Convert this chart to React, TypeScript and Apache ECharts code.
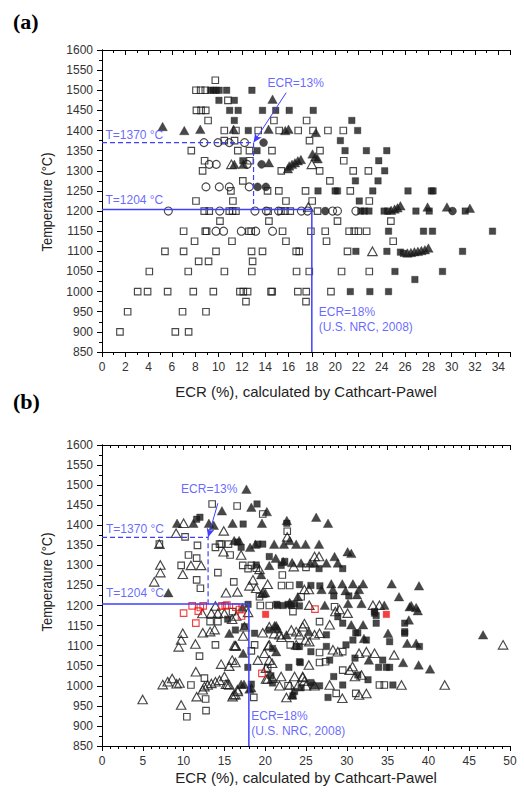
import React, { useEffect, useRef } from 'react';
import * as echarts from 'echarts';

type P = [number, number];

// ---------- Panel (a) data: [ECR %, Temperature °C] ----------
const aOpenSquares: P[] = [
  [9.72,1525],
  [8.06,1500],[8.46,1500],[8.86,1500],
  [10.8,1475],
  [8.1,1450],[8.5,1450],[8.9,1450],
  [9.1,1425],[14.75,1425],[17.55,1425],
  [10.49,1400],[11.49,1400],[13.4,1400],[15.2,1400],[16.83,1400],[18.1,1400],[19.38,1400],[20.7,1400],
  [10.49,1375],[11.37,1375],[17.8,1375],
  [7.66,1350],[11.65,1350],[12.65,1350],[14.58,1350],[18.7,1350],
  [8.8,1325],[12.69,1325],[20.74,1325],
  [8.63,1300],[15.38,1300],[18.67,1300],[21.55,1300],[22.85,1300],
  [12.08,1275],[19.55,1275],
  [11.06,1250],[14.2,1250],[15.17,1250],[17.46,1250],[21.3,1250],
  [8.06,1225],[11.23,1225],[15.78,1225],[18.03,1225],[22.93,1225],
  [8.77,1200],[9.2,1200],[10.92,1200],[11.2,1200],[11.49,1200],[14.25,1200],[15.35,1200],[15.7,1200],[16.15,1200],[18.49,1200],
  [10.12,1175],[14.32,1175],[20.2,1175],[24.78,1175],
  [7.0,1150],[8.86,1150],[8.97,1150],[12.6,1150],[12.8,1150],[15.49,1150],[17.92,1150],[19.15,1150],[21.2,1150],[21.64,1150],[22.0,1150],[22.7,1150],
  [7.94,1125],[11.15,1125],[15.78,1125],[19.26,1125],[24.98,1125],
  [5.4,1100],[7.0,1100],[9.78,1100],[12.83,1100],[13.77,1100],[16.66,1100],[16.92,1100],[21.06,1100],
  [8.29,1075],[9.14,1075],[12.92,1075],
  [4.06,1050],[7.4,1050],[10.5,1050],[12.85,1050],[16.69,1050],[17.78,1050],[20.55,1050],[22.93,1050],
  [3.06,1000],[3.91,1000],[5.63,1000],[7.83,1000],[9.55,1000],[11.83,1000],[12.12,1000],[12.49,1000],[14.5,1000],[14.6,1000],[16.8,1000],[17.52,1000],[19.64,1000],
  [12.35,975],[17.5,975],
  [2.2,950],[6.91,950],[8.92,950],
  [1.54,900],[6.29,900],[7.43,900],
];

const aFilledSquares: P[] = [
  [9.3,1500],[9.55,1500],[9.8,1500],[10.05,1500],[10.69,1500],[12.86,1500],
  [10.03,1475],[11.35,1475],
  [10.95,1450],[11.68,1450],[13.77,1450],[14.9,1450],[16.06,1450],[18.12,1450],
  [11.35,1425],[21.43,1425],
  [12.55,1400],[21.93,1400],
  [20.45,1375],
  [13.3,1350],[20.85,1350],[22.68,1350],[24.43,1350],
  [12.08,1325],[23.74,1325],
  [24.25,1300],
  [21.74,1275],[23.68,1275],
  [18.53,1250],[20.0,1250],[20.2,1250],[23.23,1250],[26.25,1250],[28.25,1250],[28.4,1250],
  [22.07,1225],
  [22.2,1200],[22.5,1200],[22.9,1200],[24.2,1200],[24.5,1200],[26.93,1200],[28.07,1200],[31.16,1200],
  [24.58,1150],[27.58,1150],[28.35,1150],[33.5,1150],
  [21.78,1100],[24.44,1100],[25.6,1098],[25.85,1095],[30.93,1100],
  [25.13,1050],[29.21,1050],
  [26.84,1030],
  [21.3,1000],[22.98,1000],[24.58,1000],
];

const aOpenCircles: P[] = [
  [8.75,1370],[9.95,1370],[10.92,1370],[12.23,1370],
  [9.2,1316],[9.8,1316],[12.45,1316],
  [8.92,1260],[10.06,1260],[10.92,1260],[12.63,1260],
  [5.69,1200],[10.1,1200],[13.12,1200],[14.1,1200],[15.15,1200],[17.1,1200],[17.63,1200],[19.78,1200],[20.2,1200],[21.78,1200],
  [9.78,1150],[10.43,1150],[11.95,1150],[13.18,1150],[14.63,1150],
];

const aFilledCircles: P[] = [
  [13.86,1370],[13.69,1316],[13.35,1260],[14.06,1260],[19.15,1200],[30.07,1200],
];

const aFilledTriangles: P[] = [
  [5.2,1410],[7.06,1400],[8.43,1403],[11.29,1403],[14.29,1403],[15.72,1400],[16.0,1403],[18.35,1395],[14.63,1478],
  [11.35,1316],[12.12,1316],[14.32,1320],
  [15.95,1305],[16.06,1312],[16.3,1316],[16.55,1320],[16.8,1325],[17.06,1328],
  [18.06,1342],[18.3,1335],[18.5,1330],
  [24.8,1202],[25.1,1205],[25.35,1208],[25.6,1213],[27.93,1210],[29.59,1210],[31.56,1207],
  [26.2,1096],[26.5,1097],[26.8,1099],[27.1,1100],[27.4,1102],[27.7,1104],[28.0,1108],
];

const aOpenTriangles: P[] = [
  [11.1,1316],[18.0,1316],[17.7,1210],[23.2,1100],
];

// ---------- Panel (b) data ----------
const bOpenSquares: P[] = [
  [13.5,1453],[16.56,1448],[19.7,1428],[10.18,1371],[22.7,1385],
  [7.03,1353],[11.7,1350],[13.9,1345],[14.4,1353],[14.6,1353],[15.5,1353],
  [15.7,1326],[10.6,1326],[11.6,1318],[9.7,1300],[17.25,1300],[18.3,1300],[18.9,1293],[17.9,1292],[25.0,1295],
  [11.6,1264],[12.06,1243],[14.2,1282],[16.15,1259],[22.1,1276],[22.0,1250],[23.0,1250],
  [19.3,1222],[24.4,1222],[19.4,1200],[20.5,1200],[28.5,1197],
  [13.25,1160],[14.2,1160],[16.0,1185],[23.4,1185],[26.66,1160],
  [13.9,1102],[18.3,1087],[18.7,1102],[23.07,1102],[26.66,1083],[29.5,1085],
  [11.95,1074],[20.3,1044],[29.5,1039],[26.66,1058],[27.4,1060],
  [12.55,1019],[10.9,1002],[22.8,1000],[34.0,1002],[34.6,1002],
  [18.6,971],[28.7,981],[31.1,981],[12.7,967],[12.75,938],[10.4,923],
];

const bFilledSquares: P[] = [
  [19.0,1453],[11.6,1415],[12.0,1420],[17.3,1403],[22.65,1405],
  [17.05,1345],[19.1,1353],[19.7,1353],[16.6,1358],[20.5,1322],[22.4,1310],[21.96,1300],
  [26.6,1292],[29.5,1292],[18.9,1301],
  [24.2,1252],[25.6,1250],[26.7,1249],[28.4,1224],[30.25,1224],
  [17.9,1203],[21.4,1203],[21.5,1200],[22.2,1200],[22.8,1203],[23.2,1200],[23.6,1204],[24.2,1199],
  [15.4,1166],[16.35,1139],[17.46,1147],[18.7,1131],[20.5,1139],[27.5,1127],[28.9,1172],[29.5,1156],
  [31.1,1132],[31.35,1132],[30.75,1114],[32.4,1114],[33.4,1185],[33.4,1181],[33.6,1175],[33.6,1156],
  [35.25,1110],[37.1,1156],[37.1,1135],[37.1,1131],[38.9,1098],
  [20.9,1093],[23.8,1098],[24.2,1098],[25.6,1085],[27.5,1098],[29.9,1102],
  [31.0,1069],[34.4,1064],[34.85,1046],[35.25,1046],[33.9,1046],[17.87,1046],[22.9,1046],[24.3,1058],[24.2,1060],[27.9,1064],
  [28.4,1023],[31.35,1027],[32.6,1015],[20.7,1025],
  [18.3,1004],[20.9,1007],[24.4,995],[23.6,986],[25.6,1008],[25.85,1000],[26.66,1000],[27.7,971],[29.5,1002],[35.65,1002],[23.4,975],
];

const bOpenTriangles: P[] = [
  [10.0,1405],[9.08,1380],[14.92,1386],[22.7,1371],[14.9,1334],[17.05,1326],
  [10.9,1300],[12.15,1300],[7.15,1301],[7.15,1282],[7.03,1353],[6.4,1259],[9.9,1278],
  [15.2,1232],[16.6,1234],[18.5,1264],[18.9,1243],[20.3,1253],[24.8,1240],[23.5,1297],[26.05,1322],[26.6,1322],
  [19.3,1290],[18.07,1249],[25.35,1240],[19.7,1232],[25.4,1201],[33.2,1201],[34.0,1201],
  [13.9,1199],[13.4,1181],[12.3,1180],[14.2,1181],[15.95,1166],[16.45,1174],[17.9,1183],[15.0,1180],
  [9.9,1131],[9.7,1114],[9.4,1097],[11.45,1104],[12.35,1132],[13.25,1135],[13.8,1140],[16.35,1099],[17.3,1124],
  [11.5,1035],[11.6,973],[9.7,952],[4.98,966],
  [7.44,1003],[8.05,1010],[8.6,1018],[9.15,1005],[9.5,1007],
  [12.35,990],[12.55,998],[12.95,1002],[13.4,1006],[13.9,1010],[14.4,1014],[15.0,1023],[15.6,1002],[16.15,978],[16.65,986],
  [14.6,1054],[15.6,1049],[15.95,1064],
  [20.4,1100],[19.9,1081],[21.1,1130],[22.0,1121],[20.5,1064],[20.85,1056],[21.95,1023],[20.9,1019],[20.1,1044],
  [23.8,1102],[23.6,1023],[24.6,1023],[23.0,1002],[22.6,971],
  [17.46,1147],[19.7,1132],[20.5,1147],[23.2,1139],[21.75,1127],[23.8,1135],[24.6,1147],[24.2,1127],[24.8,1155],
  [26.05,1127],[26.66,1131],[25.4,1110],[27.9,1152],[28.6,1185],[29.1,1190],[30.1,1181],
  [16.2,1100],[16.4,1100],[20.5,1102],[24.95,1114],[28.3,1090],[28.9,1085],[31.5,1081],[32.4,1085],[33.4,1081],[35.8,1077],
  [16.35,1058],[19.1,1064],[20.1,1017],[25.35,1052],[24.6,1021],[24.8,1012],[30.35,1039],[30.7,1048],[31.0,1023],[31.8,1027],
  [15.2,1004],[15.4,1004],[16.6,990],[16.0,973],[16.35,978],[20.3,1017],[21.75,1000],[24.0,1000],
  [25.0,1000],[26.05,1000],[27.9,1002],[29.45,969],[31.5,977],[32.4,981],[36.7,1002],[42.0,1002],[49.15,1102],
];

const bFilledTriangles: P[] = [
  [17.7,1490],[14.7,1436],[18.3,1445],[20.2,1434],[9.2,1405],[11.2,1405],[13.1,1405],[13.7,1400],[16.0,1405],
  [19.6,1405],[22.65,1412],[26.25,1420],[27.7,1405],
  [16.2,1362],[16.8,1362],[18.15,1345],[18.8,1353],[21.1,1353],[22.3,1353],[23.0,1362],[23.8,1353],[24.95,1353],[26.6,1353],
  [30.1,1334],[30.55,1330],[20.5,1300],[21.3,1318],[22.2,1310],[23.3,1307],[24.4,1306],[25.5,1306],[26.05,1306],
  [27.5,1306],[28.5,1322],[28.9,1306],
  [8.13,1232],[19.5,1277],[19.6,1230],[24.0,1222],[20.0,1232],[26.9,1240],[28.1,1254],[28.3,1240],[29.45,1254],
  [29.85,1237],[30.75,1254],[31.5,1240],[31.25,1227],[32.0,1254],[35.5,1254],[38.85,1249],[36.4,1222],
  [37.9,1200],[38.5,1195],[23.0,1208],[27.3,1201],[30.15,1205],[31.8,1205],[34.6,1201],[37.7,1197],[38.7,1187],[17.2,1196],
  [15.6,1131],[21.15,1150],[21.35,1150],[21.55,1142],[22.6,1127],[25.35,1135],[30.55,1152],[32.0,1152],[32.1,1118],
  [35.05,1131],[37.6,1164],[37.4,1106],[38.5,1106],[36.9,1058],[38.8,1052],[40.2,1042],[46.7,1127],
  [17.3,1081],[21.35,1085],[32.7,1064],[17.05,1004],[17.4,1004],[18.07,992],[18.3,995],[23.3,977],
];

const bRedOpenSquares: P[] = [
  [10.0,1181],[11.05,1199],[11.5,1156],[11.8,1186],[12.05,1195],[12.4,1199],[14.7,1199],[15.1,1199],
  [15.3,1201],[16.4,1196],[16.85,1190],[17.1,1174],[19.6,1031],[26.1,1191],
];

const bRedFilledSquares: P[] = [
  [20.05,1178],[34.85,1178],
];

// ---------- reference limits ----------
const ecr13 = 13;
const ecr18 = 18;
const t1370 = 1370;
const t1204 = 1204;
const yMin = 850;
const yMax = 1600;
const xMaxA = 35;
const xMaxB = 50;
const arrowStartA: P = [15.8, 1494];
const arrowStartB: P = [14.2, 1455];

const BLUE = '#3f3fff';
const INK = '#1a1a1a';
const FONT = '"Liberation Sans", Arial, sans-serif';

function scatter(data: P[], axis: number, symbol: string, size: number | number[], filled: boolean, color = INK, z = 3) {
  return {
    type: 'scatter',
    xAxisIndex: axis,
    yAxisIndex: axis,
    symbol,
    symbolSize: size,
    data,
    silent: true,
    z,
    itemStyle: filled
      ? { color, borderColor: color, borderWidth: 0.4 }
      : { color: 'rgba(255,255,255,0)', borderColor: color, borderWidth: 1.15 },
  };
}

function textSeries(axis: number, items: { at: P; text: string }[]) {
  return {
    type: 'scatter',
    xAxisIndex: axis,
    yAxisIndex: axis,
    symbol: 'circle',
    symbolSize: 0.1,
    silent: true,
    z: 6,
    itemStyle: { color: 'rgba(0,0,0,0)' },
    data: items.map((it) => ({
      value: it.at,
      label: {
        show: true,
        formatter: it.text,
        position: [0, 0],
        align: 'left',
        verticalAlign: 'middle',
        color: BLUE,
        fontSize: 12,
        fontFamily: FONT,
      },
    })),
  };
}

function refLines(axis: number, arrowStart: P) {
  return [
    {
      type: 'line',
      xAxisIndex: axis,
      yAxisIndex: axis,
      symbol: 'none',
      silent: true,
      z: 5,
      lineStyle: { color: BLUE, width: 1.2, type: [5, 3] },
      data: [[0, t1370], [ecr13, t1370], [ecr13, t1204]],
      markLine: {
        silent: true,
        symbol: ['none', 'arrow'],
        symbolSize: [6, 9],
        label: { show: false },
        lineStyle: { color: BLUE, width: 1, type: 'solid' },
        data: [[{ coord: arrowStart }, { coord: [ecr13, t1370] }]],
      },
    },
    {
      type: 'line',
      xAxisIndex: axis,
      yAxisIndex: axis,
      symbol: 'none',
      silent: true,
      z: 5,
      lineStyle: { color: BLUE, width: 1.5, type: 'solid' },
      data: [[0, t1204], [ecr18, t1204], [ecr18, yMin]],
    },
  ];
}

const plainNumber = (v: number) => String(v);

function xAxes(grid: number, max: number, interval: number, minorSplit: number, nameGap: number) {
  return [
    {
      type: 'value', gridIndex: grid, position: 'bottom', min: 0, max, interval,
      name: 'ECR (%), calculated by Cathcart-Pawel', nameLocation: 'middle', nameGap,
      nameTextStyle: { fontSize: 15, color: '#222', fontFamily: FONT },
      axisLine: { show: true, lineStyle: { color: '#000', width: 1 } },
      axisTick: { show: true, inside: false, length: 5, lineStyle: { color: '#000' } },
      minorTick: { show: true, splitNumber: minorSplit, length: 3, lineStyle: { color: '#000' } },
      axisLabel: { show: true, margin: 9, fontSize: 12, color: '#333', fontFamily: FONT, showMaxLabel: max % interval === 0, formatter: plainNumber },
      splitLine: { show: false },
    },
    {
      type: 'value', gridIndex: grid, position: 'top', min: 0, max, interval,
      axisLine: { show: true, lineStyle: { color: '#000', width: 1 } },
      axisTick: { show: true, inside: true, length: 5, lineStyle: { color: '#000' } },
      minorTick: { show: true, splitNumber: minorSplit, length: 3, lineStyle: { color: '#000' } },
      axisLabel: { show: false },
      splitLine: { show: false },
    },
  ];
}

function yAxes(grid: number) {
  return [
    {
      type: 'value', gridIndex: grid, position: 'left', min: yMin, max: yMax, interval: 50,
      axisLine: { show: true, lineStyle: { color: '#000', width: 1 } },
      axisTick: { show: true, inside: false, length: 5, lineStyle: { color: '#000' } },
      minorTick: { show: true, splitNumber: 2, length: 3, lineStyle: { color: '#000' } },
      axisLabel: { show: true, margin: 9, fontSize: 12, color: '#333', fontFamily: FONT, formatter: plainNumber },
      splitLine: { show: false },
    },
    {
      type: 'value', gridIndex: grid, position: 'right', min: yMin, max: yMax, interval: 50,
      axisLine: { show: true, lineStyle: { color: '#000', width: 1 } },
      axisTick: { show: true, inside: true, length: 5, lineStyle: { color: '#000' } },
      minorTick: { show: true, splitNumber: 2, length: 3, lineStyle: { color: '#000' } },
      axisLabel: { show: false },
      splitLine: { show: false },
    },
  ];
}

export default function App() {
  const ref = useRef<HTMLDivElement>(null);
  useEffect(() => {
    if (!ref.current) return;
    const chart = echarts.init(ref.current, undefined, { renderer: 'svg' });
    const xa = xAxes(0, xMaxA, 2, 2, 32);
    const xb = xAxes(1, xMaxB, 5, 5, 24);
    const ya = yAxes(0);
    const yb = yAxes(1);
    // axis index order: 0 = (a) bottom/left, 1 = (a) top/right, 2 = (b) bottom/left, 3 = (b) top/right
    const option: any = {
      animation: false,
      backgroundColor: '#ffffff',
      grid: [
        { left: 102, top: 50, width: 408, height: 302 },
        { left: 102, top: 445, width: 408, height: 301 },
      ],
      xAxis: [xa[0], xa[1], xb[0], xb[1]],
      yAxis: [ya[0], ya[1], yb[0], yb[1]],
      graphic: [
        { type: 'text', left: 13, top: 10, style: { text: '(a)', font: 'bold 22px "Liberation Serif", "Times New Roman", serif', fill: '#000' } },
        { type: 'text', left: 13, top: 390, style: { text: '(b)', font: 'bold 22px "Liberation Serif", "Times New Roman", serif', fill: '#000' } },
        { type: 'text', x: 47, y: 202, rotation: Math.PI / 2, scaleX: 0.86, style: { text: 'Temperature (°C)', font: '15px "Liberation Sans", Arial, sans-serif', fill: '#222', align: 'center', verticalAlign: 'middle' } },
        { type: 'text', x: 47, y: 582, rotation: Math.PI / 2, scaleX: 0.86, style: { text: 'Temperature (°C)', font: '15px "Liberation Sans", Arial, sans-serif', fill: '#222', align: 'center', verticalAlign: 'middle' } },
      ],
      series: [
        // panel (a)
        scatter(aOpenSquares, 0, 'rect', 6.5, false),
        scatter(aFilledSquares, 0, 'rect', 6.5, true),
        scatter(aOpenCircles, 0, 'circle', 8, false),
        scatter(aFilledCircles, 0, 'circle', 8, true),
        scatter(aFilledTriangles, 0, 'triangle', [9.5, 8.5], true),
        scatter(aOpenTriangles, 0, 'triangle', [9.5, 8.5], false),
        ...refLines(0, arrowStartA),
        textSeries(0, [
          { at: [0.3, 1389], text: 'T=1370 °C' },
          { at: [0.3, 1227], text: 'T=1204 °C' },
          { at: [14.2, 1517], text: 'ECR=13%' },
          { at: [18.6, 949], text: 'ECR=18%' },
          { at: [18.6, 913], text: '(U.S. NRC, 2008)' },
        ]),
        // panel (b)
        scatter(bOpenSquares, 2, 'rect', 6.5, false),
        scatter(bFilledSquares, 2, 'rect', 6.5, true),
        scatter(bOpenTriangles, 2, 'triangle', [9.5, 8.5], false),
        scatter(bFilledTriangles, 2, 'triangle', [9.5, 8.5], true),
        scatter(bRedOpenSquares, 2, 'rect', 6.5, false, '#ee1111', 4),
        scatter(bRedFilledSquares, 2, 'rect', 6.5, true, '#ee1111', 4),
        ...refLines(2, arrowStartB),
        textSeries(2, [
          { at: [0.5, 1391], text: 'T=1370 °C' },
          { at: [0.5, 1231], text: 'T=1204 °C' },
          { at: [9.7, 1490], text: 'ECR=13%' },
          { at: [18.3, 925], text: 'ECR=18%' },
          { at: [18.3, 888], text: '(U.S. NRC, 2008)' },
        ]),
      ],
    };
    chart.setOption(option);
    return () => chart.dispose();
  }, []);
  return (
    <div
      ref={ref}
      style={{ position: 'fixed', left: 0, top: 0, width: 524, height: 794, background: '#fff' }}
    />
  );
}
